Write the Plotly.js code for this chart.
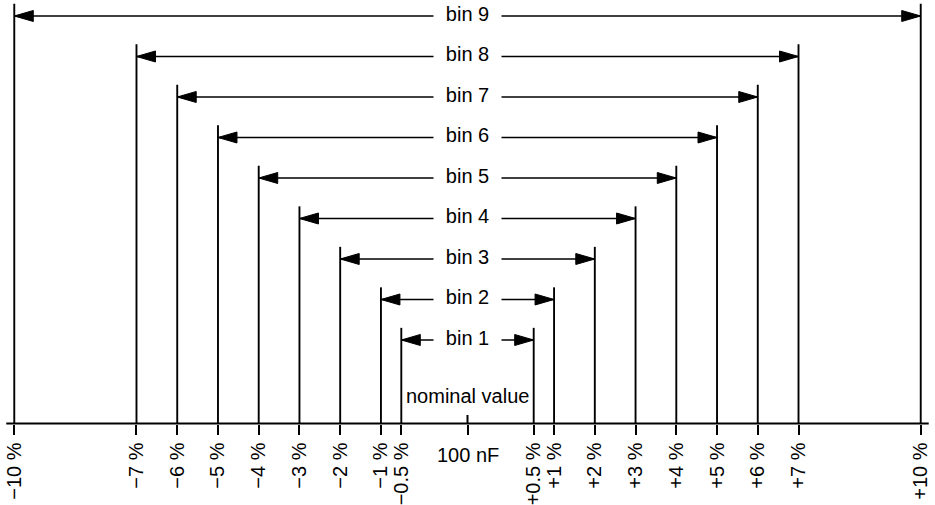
<!DOCTYPE html>
<html>
<head>
<meta charset="utf-8">
<script src="https://cdn.plot.ly/plotly-3.0.1.min.js"></script>
<style>html,body{margin:0;padding:0;background:#fff;}#chart{width:935px;height:505px;}</style>
</head>
<body>
<div id="chart"></div>
<script>
// ---- data ----
const binNames = ['bin 1','bin 2','bin 3','bin 4','bin 5','bin 6','bin 7','bin 8','bin 9'];
const binLow   = [-0.5, -1, -2, -3, -4, -5, -6, -7, -10];
const binHigh  = [ 0.5,  1,  2,  3,  4,  5,  6,  7,  10];
const tickPercents = [-10, -7, -6, -5, -4, -3, -2, -1, -0.5, 0, 0.5, 1, 2, 3, 4, 5, 6, 7, 10];
const tickLabels = ['\u221210 %','\u22127 %','\u22126 %','\u22125 %','\u22124 %','\u22123 %','\u22122 %','\u22121 %','\u22120.5 %',
                    '','+0.5 %','+1 %','+2 %','+3 %','+4 %','+5 %','+6 %','+7 %','+10 %'];
const nominalLabel = 'nominal value';
const nominalValue = '100 nF';

// ---- schematic (broken) axis around nominal ----
const GAP = 1.125;                       // extra space around nominal, in % units
const pos = v => v === 0 ? 0 : v + Math.sign(v) * GAP;
const PXX = 40.74, PXY = 40.5;           // px per unit
const BASE = -1.062;                     // baseline level (bin k drawn at level k)
const yr = [BASE - 81.5 / PXY, BASE + 423.5 / PXY];
const xr = [-467.5 / PXX, 467.5 / PXX];
const LG = 34 / PXX;                     // half gap for label
const AL = 19 / PXX, AH = 5.5 / PXY;     // arrowhead length / half height
const FONT = 'Liberation Sans, Arial, Helvetica, sans-serif';

const vx = [], vy = [], sx = [], sy = [], ax = [], ay = [];
binNames.forEach((n, i) => {
  const k = i + 1, lo = pos(binLow[i]), hi = pos(binHigh[i]);
  vx.push(lo, lo, null, hi, hi, null);
  vy.push(BASE, k + 0.3, null, BASE, k + 0.3, null);
  sx.push(lo, -LG, null, LG, hi, null);
  sy.push(k, k, null, k, k, null);
  ax.push(lo, lo + AL, lo + AL, lo, null, hi, hi - AL, hi - AL, hi, null);
  ay.push(k, k + AH, k - AH, k, null, k, k + AH, k - AH, k, null);
});
const ext = 8 / PXX;

const traces = [
  {x: [pos(-10) - ext, pos(10) + ext], y: [BASE, BASE], mode: 'lines', line: {color: '#000', width: 2.2}},
  {x: vx, y: vy, mode: 'lines', line: {color: '#000', width: 1.9}},
  {x: [0, 0], y: [BASE, BASE + 8.5 / PXY], mode: 'lines', line: {color: '#000', width: 2}},
  {x: sx, y: sy, mode: 'lines', line: {color: '#000', width: 1.6}},
  {x: ax, y: ay, mode: 'lines', fill: 'toself', fillcolor: '#000', line: {color: '#000', width: 1}},
  {x: binNames.map(() => 0), y: binNames.map((n, i) => i + 1), mode: 'text', text: binNames,
   textfont: {family: FONT, size: 20, color: '#000'}, textposition: 'middle center'}
];

const layout = {
  width: 935, height: 505, margin: {l: 0, r: 0, t: 0, b: 0},
  paper_bgcolor: '#fff', plot_bgcolor: '#fff', showlegend: false,
  xaxis: {range: xr, tickvals: tickPercents.map(pos), ticktext: tickLabels, tickangle: -90,
          ticks: 'outside', ticklen: 10, tickwidth: 2, tickcolor: '#000',
          showgrid: false, zeroline: false, showline: false, anchor: 'free',
          position: (BASE - yr[0]) / (yr[1] - yr[0]),
          tickfont: {family: FONT, size: 20, color: '#000'}, fixedrange: true},
  yaxis: {range: yr, visible: false, showgrid: false, zeroline: false, fixedrange: true},
  annotations: [
    {x: 0, y: BASE + 27.5 / PXY, text: nominalLabel, showarrow: false, xanchor: 'center', yanchor: 'middle',
     font: {family: FONT, size: 20, color: '#000'}},
    {x: 0, y: BASE - 31.5 / PXY, text: nominalValue, showarrow: false, xanchor: 'center', yanchor: 'middle',
     font: {family: FONT, size: 20, color: '#000'}}
  ]
};
Plotly.newPlot('chart', traces, layout, {staticPlot: true, displayModeBar: false});
</script>
</body>
</html>
